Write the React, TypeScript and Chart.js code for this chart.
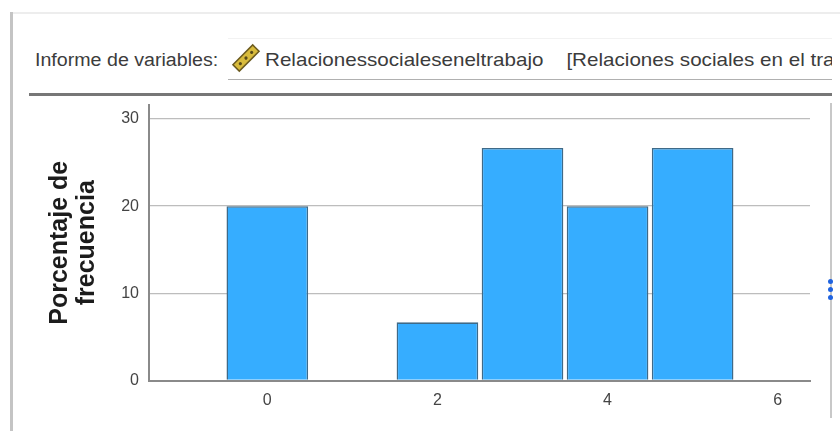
import React, { useEffect, useRef } from "react";
import { Chart, registerables } from "chart.js";

Chart.register(...registerables);

const scoreValues = [0, 2, 3, 4, 5];
const percentValues = [20, 6.67, 26.67, 20, 26.67];
const yTitleLines = ["Porcentaje de", "frecuencia"];
const panelLabel = "Informe de variables:";
const variableLabel = "Relacionessocialeseneltrabajo\u00a0\u00a0\u00a0\u00a0[Relaciones sociales en el trabajo]";

const box = (s: React.CSSProperties): React.CSSProperties => ({ position: "absolute", ...s });

export default function App() {
  const ref = useRef<HTMLCanvasElement>(null);
  useEffect(() => {
    const chart = new Chart(ref.current!, {
      type: "bar",
      data: {
        datasets: [
          {
            data: scoreValues.map((x, i) => ({ x, y: percentValues[i] })),
            backgroundColor: "#36adff",
            borderColor: "#3f6a88",
            borderWidth: { top: 1.6, left: 1.5, right: 1.5, bottom: 0 },
            barPercentage: 0.96,
            categoryPercentage: 1,
          },
        ],
      },
      options: {
        responsive: false,
        animation: false,
        layout: { padding: { top: 105, right: 30, left: 0, bottom: 0 } },
        plugins: { legend: { display: false }, tooltip: { enabled: false } },
        scales: {
          x: {
            type: "linear",
            min: -1.391,
            max: 6.38,
            offset: false,
            grid: { display: false, drawTicks: false },
            border: { color: "#8a8a8a", width: 2 },
            afterFit: (s: any) => { s.height = 50.5; },
            ticks: {
              stepSize: 2,
              includeBounds: false,
              color: "#444",
              padding: 10,
              maxRotation: 0,
              font: { family: "'Liberation Sans'", size: 16 },
            },
          },
          y: {
            min: 0,
            max: 31.6,
            grid: { color: "#bdbdbd", lineWidth: 1.3, drawTicks: false },
            border: { color: "#8a8a8a", width: 2 },
            afterFit: (s: any) => { s.width = 149; },
            title: {
              display: true,
              text: yTitleLines,
              color: "#1c1c1c",
              padding: { top: 47, bottom: 0 },
              font: { family: "'Liberation Sans'", size: 25, weight: "bold", lineHeight: 1.06 },
            },
            ticks: {
              stepSize: 10,
              includeBounds: false,
              color: "#444",
              padding: 10,
              font: { family: "'Liberation Sans'", size: 16 },
            },
          },
        },
      },
    } as any);
    return () => chart.destroy();
  }, []);

  return (
    <div style={box({ left: 0, top: 0, width: 840, height: 431, overflow: "hidden", background: "#fff", filter: "blur(0.6px)" })}>
      <div style={box({ left: 11, top: 12, width: 829, height: 1.5, background: "#ededed" })} />
      <div style={box({ left: 9.5, top: 12, width: 3, height: 419, background: "#c4c4c4" })} />
      <div style={box({ left: 35, top: 50, fontFamily: "'Liberation Sans'", fontSize: 18, lineHeight: "20px", color: "#3c3c3c", whiteSpace: "nowrap", transform: "scaleX(1.09)", transformOrigin: "left center" })}>
        {panelLabel}
      </div>
      <div style={box({ left: 228, top: 38, width: 604, height: 42, borderTop: "1px solid #f2f2f2", borderBottom: "1.5px solid #b0b0b0", boxSizing: "border-box", overflow: "hidden" })}>
        <svg width="30" height="30" viewBox="0 0 30 30" style={{ position: "absolute", left: 3, top: 4 }}>
          <g transform="rotate(-45 15 15)">
            <rect x="1" y="10.5" width="28" height="9" fill="#d8bb3c" stroke="#6b5a1e" strokeWidth="1.5" />
            <circle cx="7" cy="15" r="1.6" fill="#5a4c18" />
            <circle cx="15" cy="15" r="1.6" fill="#5a4c18" />
            <circle cx="23" cy="15" r="1.6" fill="#5a4c18" />
          </g>
        </svg>
        <div style={{ position: "absolute", left: 37, top: 11, fontFamily: "'Liberation Sans'", fontSize: 19, lineHeight: "20px", color: "#3c3c3c", whiteSpace: "nowrap", transform: "scaleX(1.085)", transformOrigin: "left center" }}>
          {variableLabel}
        </div>
      </div>
      <div style={box({ left: 29, top: 93, width: 803, height: 3, background: "#777" })} />
      <canvas ref={ref} width={840} height={431} style={box({ left: 0, top: 0, width: 840, height: 431 })} />
      <div style={box({ left: 830, top: 103, width: 2, height: 315, background: "#c8c8c8" })} />
      {[281, 289, 297].map((t) => (
        <div key={t} style={box({ left: 828, top: t - 2.5, width: 5, height: 5, borderRadius: "50%", background: "#1f63e0" })} />
      ))}
    </div>
  );
}
